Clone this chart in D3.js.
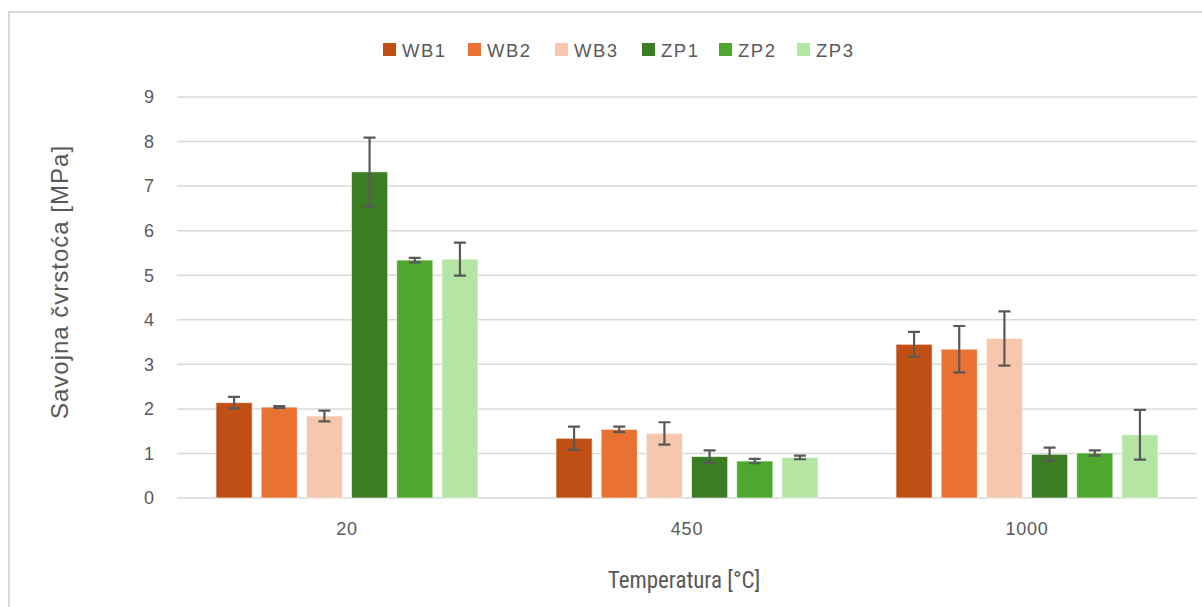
<!DOCTYPE html>
<html lang="hr">
  <head>
    <meta charset="UTF-8" />
    <title>Savojna čvrstoća</title>
    <script src="https://d3js.org/d3.v7.min.js"></script>
    <style>
      body {
        margin: 0;
        background: #fff;
        font-family: "Liberation Sans", Arial, sans-serif;
      }
      svg {
        display: block;
      }
    </style>
  </head>
  <body>
    <div id="chart"></div>
    <script>
      // data
      const categories = ["20", "450", "1000"];
      const series = ["WB1", "WB2", "WB3", "ZP1", "ZP2", "ZP3"];
      const colors = ["#C04F15", "#E97132", "#F6C6AD", "#3B7D23", "#4EA72E", "#B4E5A2"];
      // values per series, one per category
      const wb1 = [2.14, 1.34, 3.45];
      const wb2 = [2.04, 1.54, 3.34];
      const wb3 = [1.84, 1.45, 3.58];
      const zp1 = [7.32, 0.93, 0.98];
      const zp2 = [5.34, 0.83, 1.01];
      const zp3 = [5.36, 0.91, 1.42];
      // error (+/-)
      const wb1Err = [0.13, 0.26, 0.28];
      const wb2Err = [0.02, 0.06, 0.52];
      const wb3Err = [0.12, 0.25, 0.61];
      const zp1Err = [0.77, 0.14, 0.15];
      const zp2Err = [0.05, 0.05, 0.06];
      const zp3Err = [0.37, 0.04, 0.56];
      const yTicks = [0, 1, 2, 3, 4, 5, 6, 7, 8, 9];

      const values = [wb1, wb2, wb3, zp1, zp2, zp3];
      const errors = [wb1Err, wb2Err, wb3Err, zp1Err, zp2Err, zp3Err];

      const rows = [];
      categories.forEach((c, ci) => {
        series.forEach((s, si) => {
          rows.push({ cat: c, name: s, value: values[si][ci], err: errors[si][ci], color: colors[si] });
        });
      });

      const width = 1202;
      const height = 607;

      const svg = d3
        .select("#chart")
        .append("svg")
        .attr("width", width)
        .attr("height", height);

      // outer frame (only the top/left edges are visible)
      svg
        .append("rect")
        .attr("x", 9)
        .attr("y", 12)
        .attr("width", 1300)
        .attr("height", 700)
        .attr("fill", "none")
        .attr("stroke", "#D9D9D9")
        .attr("stroke-width", 2);

      const plotLeft = 177,
        plotRight = 1197;
      const y = d3.scaleLinear().domain([0, 9]).range([498, 97]);
      const x0 = d3.scaleBand().domain(categories).range([plotLeft, plotRight]);
      const x1 = d3
        .scaleBand()
        .domain(series)
        .range([39, 301])
        .paddingInner(0.2);

      // gridlines
      svg
        .append("g")
        .selectAll("line")
        .data(yTicks)
        .join("line")
        .attr("x1", plotLeft)
        .attr("x2", plotRight)
        .attr("y1", (d) => y(d))
        .attr("y2", (d) => y(d))
        .attr("stroke", "#D9D9D9")
        .attr("stroke-width", 1.5);

      // y tick labels
      svg
        .append("g")
        .selectAll("text")
        .data(yTicks)
        .join("text")
        .attr("x", 154)
        .attr("y", (d) => y(d))
        .attr("dy", "0.35em")
        .attr("text-anchor", "end")
        .attr("fill", "#595959")
        .style("font-size", "18px")
        .text((d) => d);

      // x tick labels
      svg
        .append("g")
        .selectAll("text")
        .data(categories)
        .join("text")
        .attr("x", (d) => x0(d) + x0.bandwidth() / 2)
        .attr("y", 535)
        .attr("text-anchor", "middle")
        .attr("fill", "#595959")
        .style("font-size", "18px")
        .style("letter-spacing", "0.8px")
        .text((d) => d);

      // bars
      const bar = svg
        .append("g")
        .selectAll("g")
        .data(rows)
        .join("g")
        .attr("transform", (d) => `translate(${x0(d.cat) + x1(d.name)},0)`);

      bar
        .append("rect")
        .attr("x", 0)
        .attr("width", x1.bandwidth())
        .attr("y", (d) => y(d.value))
        .attr("height", (d) => y(0) - y(d.value))
        .attr("fill", (d) => d.color)
        .attr("stroke", "#fff")
        .attr("stroke-opacity", 0.6)
        .attr("stroke-width", 1);

      // error bars
      const cx = x1.bandwidth() / 2;
      bar
        .append("path")
        .attr("d", (d) => {
          const t = y(d.value + d.err),
            b = y(d.value - d.err);
          return `M${cx},${t}V${b}M${cx - 6},${t}H${cx + 6}M${cx - 6},${b}H${cx + 6}`;
        })
        .attr("fill", "none")
        .attr("stroke", "#595959")
        .attr("stroke-width", 2.2);

      // legend
      const legendX = [383, 468, 555, 642, 719, 797];
      const legend = svg
        .append("g")
        .selectAll("g")
        .data(series)
        .join("g")
        .attr("transform", (d, i) => `translate(${legendX[i]},43)`);
      legend
        .append("rect")
        .attr("width", 13)
        .attr("height", 13)
        .attr("fill", (d, i) => colors[i]);
      legend
        .append("text")
        .attr("x", 19)
        .attr("y", 13.5)
        .attr("fill", "#595959")
        .style("font-size", "18.5px")
        .style("letter-spacing", "1.5px")
        .text((d) => d);

      // axis titles
      svg
        .append("text")
        .attr("transform", "translate(68,282) rotate(-90)")
        .attr("text-anchor", "middle")
        .attr("fill", "#595959")
        .style("font-size", "24px")
        .style("letter-spacing", "1px")
        .text("Savojna čvrstoća [MPa]");

      svg
        .append("text")
        .attr("x", 684)
        .attr("y", 588)
        .attr("text-anchor", "middle")
        .attr("fill", "#595959")
        .style("font-family", "'Liberation Sans Narrow', 'Roboto Condensed', sans-serif")
        .style("font-size", "23px")
        .text("Temperatura [°C]");
    </script>
  </body>
</html>
